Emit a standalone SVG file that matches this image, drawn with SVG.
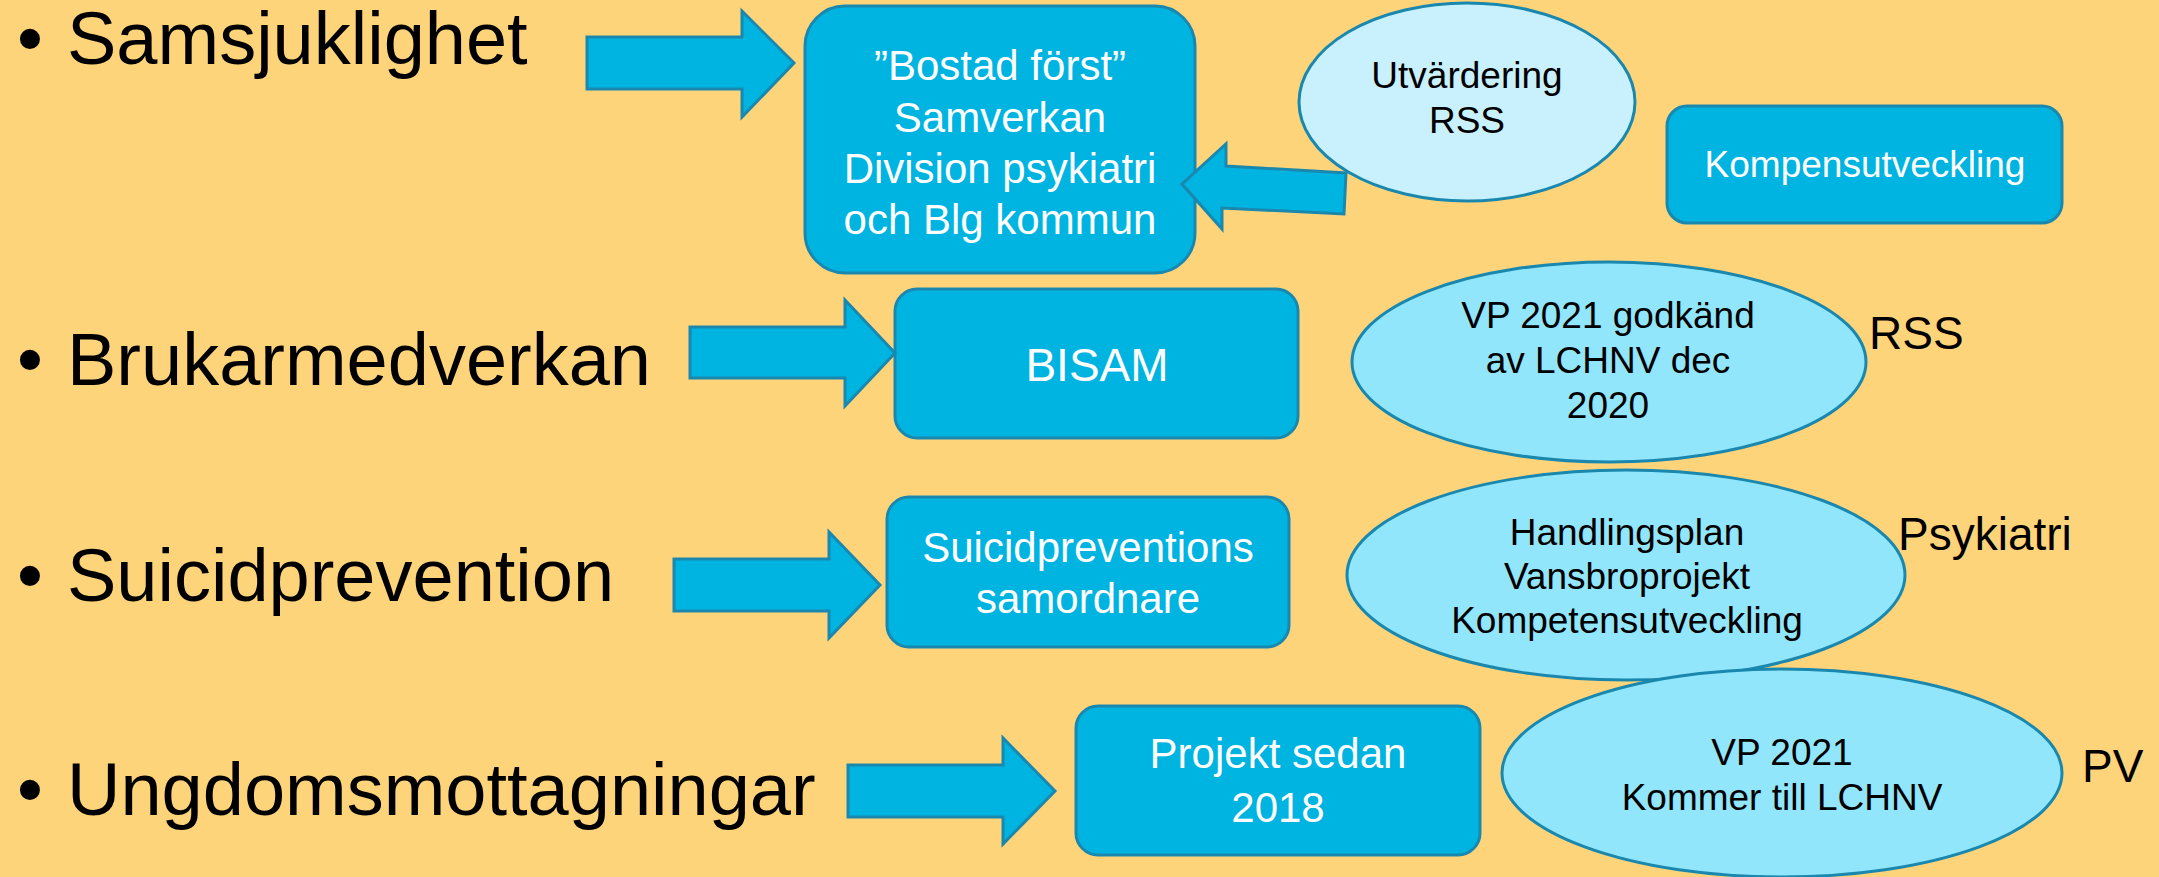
<svg xmlns="http://www.w3.org/2000/svg" width="2159" height="877" viewBox="0 0 2159 877">
<style>
.bg{fill:#FED47A}
.box{fill:#00B4E1;stroke:#1A88AE;stroke-width:3}
.ell1{fill:#C8F1FD;stroke:#1A88AE;stroke-width:3}
.ell2{fill:#91E6FC;stroke:#1A88AE;stroke-width:3}
.arr{fill:#00B4E1;stroke:#1A88AE;stroke-width:3;stroke-linejoin:miter}
text{font-family:"Liberation Sans",Arial,sans-serif}
.big{font-size:74px;fill:#000}
.wt{font-size:42px;fill:#fff;text-anchor:middle}
.wt37{font-size:37px;fill:#fff;text-anchor:middle}
.bt{font-size:37px;fill:#000;text-anchor:middle}
.lbl{font-size:46px;fill:#000}
</style>
<rect class="bg" x="0" y="0" width="2159" height="877"/>

<g id="bullets">
<text class="big" x="17" y="64">•</text><text class="big" x="67" y="64">Samsjuklighet</text>
<text class="big" x="17" y="385">•</text><text class="big" x="67" y="385">Brukarmedverkan</text>
<text class="big" x="17" y="601">•</text><text class="big" x="67" y="601">Suicidprevention</text>
<text class="big" x="17" y="815">•</text><text class="big" x="67" y="815">Ungdomsmottagningar</text>
</g>

<g id="bostad">
<rect class="box" x="805" y="6" width="390" height="267" rx="40" ry="40"/>
<text class="wt" x="1000" y="80">”Bostad först”</text>
<text class="wt" x="1000" y="132">Samverkan</text>
<text class="wt" x="1000" y="183">Division psykiatri</text>
<text class="wt" x="1000" y="234">och Blg kommun</text>
</g>

<g id="bisam">
<rect class="box" x="895" y="289" width="403" height="149" rx="22" ry="22"/>
<text class="wt" x="1097" y="381" style="font-size:46px">BISAM</text>
</g>

<g id="suicid">
<rect class="box" x="887" y="497" width="402" height="150" rx="22" ry="22"/>
<text class="wt" x="1088" y="562">Suicidpreventions</text>
<text class="wt" x="1088" y="613">samordnare</text>
</g>

<g id="projekt">
<rect class="box" x="1076" y="706" width="404" height="149" rx="22" ry="22"/>
<text class="wt" x="1278" y="768">Projekt sedan</text>
<text class="wt" x="1278" y="822">2018</text>
</g>

<g id="kompens">
<rect class="box" x="1667" y="106" width="395" height="117" rx="20" ry="20"/>
<text class="wt37" x="1865" y="177">Kompensutveckling</text>
</g>

<g id="utvardering">
<ellipse class="ell1" cx="1467" cy="102" rx="168" ry="99"/>
<text class="bt" x="1467" y="88">Utvärdering</text>
<text class="bt" x="1467" y="133">RSS</text>
</g>

<g id="vp-godkand">
<ellipse class="ell2" cx="1609" cy="362" rx="257" ry="100"/>
<text class="bt" x="1608" y="328">VP 2021 godkänd</text>
<text class="bt" x="1608" y="373">av LCHNV dec</text>
<text class="bt" x="1608" y="418">2020</text>
</g>
<g id="label-rss"><text class="lbl" x="1869" y="349">RSS</text></g>

<g id="handlingsplan">
<ellipse class="ell2" cx="1626" cy="575" rx="279" ry="105"/>
<text class="bt" x="1627" y="545">Handlingsplan</text>
<text class="bt" x="1627" y="589">Vansbroprojekt</text>
<text class="bt" x="1627" y="633">Kompetensutveckling</text>
</g>
<g id="label-psykiatri"><text class="lbl" x="1898" y="550">Psykiatri</text></g>

<g id="vp-kommer">
<ellipse class="ell2" cx="1782" cy="773" rx="280" ry="104"/>
<text class="bt" x="1782" y="765">VP 2021</text>
<text class="bt" x="1782" y="810">Kommer till LCHNV</text>
</g>
<g id="label-pv"><text class="lbl" x="2082" y="782">PV</text></g>

<g id="connectors">
<polygon class="arr" points="587,37 742,37 742,11 794,63 742,117 742,89 587,89"/>
<polygon class="arr" points="690,327 845,327 845,300 895,353 845,406 845,378 690,378"/>
<polygon class="arr" points="674,559 829,559 829,532 880,585 829,638 829,611 674,611"/>
<polygon class="arr" points="848,765 1003,765 1003,738 1055,791 1003,844 1003,817 848,817"/>
<polygon class="arr" points="1182,184 1226,144 1226,166 1346,173 1344,214 1222,208 1222,229"/>
</g>
</svg>
